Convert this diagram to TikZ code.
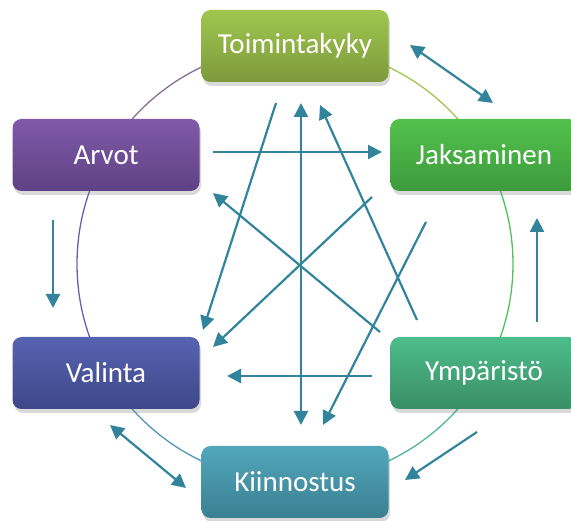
\documentclass[tikz,border=0pt]{standalone}
\usepackage{fontspec}
\setmainfont{Carlito}
\usetikzlibrary{arrows.meta,shadows,positioning}
\definecolor{toimtop}{HTML}{A0C650}
\definecolor{toimbot}{HTML}{7D9A3B}
\definecolor{jakstop}{HTML}{52C24C}
\definecolor{jaksbot}{HTML}{3D9A3C}
\definecolor{arvotop}{HTML}{8159A8}
\definecolor{arvobot}{HTML}{5E4285}
\definecolor{valitop}{HTML}{5663B0}
\definecolor{valibot}{HTML}{3E4788}
\definecolor{ymptop}{HTML}{4DBD8B}
\definecolor{ympbot}{HTML}{3A8E66}
\definecolor{kiintop}{HTML}{52A7BC}
\definecolor{kiinbot}{HTML}{3B7F91}
\definecolor{linkteal}{HTML}{31849B}

\tikzset{
  box/.style={rectangle, rounded corners=9pt, minimum width=187pt, minimum height=72pt,
    text=white, font=\fontsize{29}{34}\selectfont,
    drop shadow={opacity=0.3, shadow xshift=1.5pt, shadow yshift=-4pt}},
  link/.style={line width=2.2pt, linkteal, -{Triangle[length=14pt,width=14pt]}},
  twoway/.style={link, {Triangle[length=14pt,width=14pt]}-{Triangle[length=14pt,width=14pt]}},
  ring/.style={line width=1.3pt}
}

\begin{document}
\begin{tikzpicture}[x=1pt, y=-1pt]
\useasboundingbox (0,0) rectangle (571,521);
\clip (0,0) rectangle (571,521);

% Ring behind the boxes
\coordinate (hub) at (295,264);
\draw[ring, arvotop!80!toimtop] (hub) ++(-90:218) arc[start angle=-90, end angle=-150, radius=218];
\draw[ring, valitop!60!arvotop] (hub) ++(-150:218) arc[start angle=-150, end angle=-210, radius=218];
\draw[ring, kiintop!75!valitop] (hub) ++(-210:218) arc[start angle=-210, end angle=-270, radius=218];
\draw[ring, ymptop!70!kiintop] (hub) ++(-270:218) arc[start angle=-270, end angle=-330, radius=218];
\draw[ring, jakstop!80!ymptop] (hub) ++(-330:218) arc[start angle=-330, end angle=-390, radius=218];
\draw[ring, toimtop] (hub) ++(-30:218) arc[start angle=-30, end angle=-90, radius=218];

% Boxes
\node[box, top color=toimtop, bottom color=toimbot] (toim) at (295,46) {Toimintakyky};
\node[box, top color=jakstop, bottom color=jaksbot] (jaks) at (484,155) {Jaksaminen};
\node[box, top color=arvotop, bottom color=arvobot] (arvot) at (106,155) {Arvot};
\node[box, top color=valitop, bottom color=valibot] (valinta) at (106,373) {Valinta};
\node[box, top color=ymptop, bottom color=ympbot] (ymp) at (484,373) {Ympäristö};
\node[box, top color=kiintop, bottom color=kiinbot] (kiin) at (295,482) {Kiinnostus};

% Arrow ends
\coordinate (toimL) at (276,103);   \coordinate (valiT) at (203,330);
\coordinate (toimM) at (301,103);   \coordinate (kiinM) at (301,425);
\coordinate (ympT) at (417,320);    \coordinate (toimR) at (320,105);
\coordinate (arvoR) at (213,152);   \coordinate (jaksL) at (382,152);
\coordinate (ympL) at (380,332);    \coordinate (arvoB) at (213,193);
\coordinate (jaksB) at (372,197);   \coordinate (valiR) at (213,347);
\coordinate (jaksC) at (426,222);   \coordinate (kiinR) at (323,425);
\coordinate (ympM) at (372,376);    \coordinate (valiM) at (227,376);
\coordinate (toimE) at (410,45);    \coordinate (jaksN) at (493,103);
\coordinate (arvoS) at (53,220);    \coordinate (valiN) at (53,308);
\coordinate (ympN) at (537,322);    \coordinate (jaksS) at (537,218);
\coordinate (valiS) at (110,425);   \coordinate (kiinW) at (186,488);
\coordinate (ympS) at (477,432);    \coordinate (kiinE) at (405,480);

% Inner arrows
\draw[link] (toimL) -- (valiT);
\draw[twoway] (toimM) -- (kiinM);
\draw[link] (ympT) -- (toimR);
\draw[link] (arvoR) -- (jaksL);
\draw[link] (ympL) -- (arvoB);
\draw[link] (jaksB) -- (valiR);
\draw[link] (jaksC) -- (kiinR);
\draw[link] (ympM) -- (valiM);

% Outer arrows
\draw[twoway] (toimE) -- (jaksN);
\draw[link] (arvoS) -- (valiN);
\draw[link] (ympN) -- (jaksS);
\draw[twoway] (valiS) -- (kiinW);
\draw[link] (ympS) -- (kiinE);
\end{tikzpicture}
\end{document}
